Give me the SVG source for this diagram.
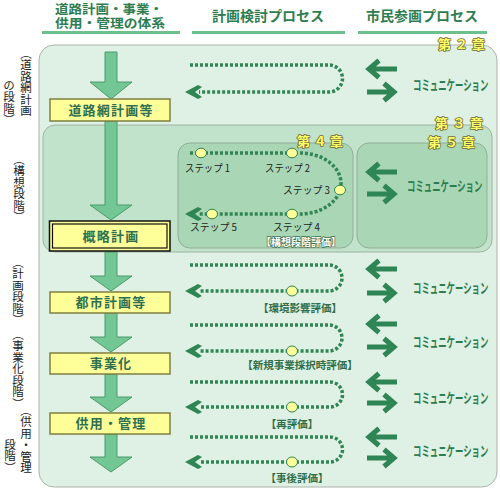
<svg xmlns="http://www.w3.org/2000/svg" width="500" height="490" viewBox="0 0 500 490">
<defs>
<style>
.hdr{font-family:"Noto Sans CJK JP","Noto Sans",sans-serif;font-weight:bold;fill:#2e7d50;text-anchor:middle}
.hdr2{font-family:"Liberation Sans","Noto Sans CJK JP",sans-serif;font-weight:bold;fill:#2e7d50;text-anchor:middle}
.bar{fill:#6cc08e}
.vt{font-family:"Noto Sans CJK JP","Noto Sans",sans-serif;font-size:11.5px;fill:#222;writing-mode:vertical-rl;text-orientation:mixed}
.chap{font-family:"Noto Sans CJK JP","Noto Sans",sans-serif;font-weight:bold;font-size:13px;fill:#ffff66;stroke:#6e6a3c;stroke-width:1.6;paint-order:stroke;stroke-linejoin:round}
.big{fill:#72c794;stroke:#4a9a6a;stroke-width:1}
.box{fill:#ffff99;stroke:#7f7f40;stroke-width:1.5}
.blab{font-family:"Noto Sans CJK JP","Noto Sans",sans-serif;font-weight:bold;font-size:13px;fill:#2e7050;text-anchor:middle;letter-spacing:1.2px}
.dot{fill:none;stroke:#2f8553;stroke-width:3.5;stroke-dasharray:3 2}
.ah{fill:#2f8553}
.yc{fill:#ffff99;stroke:#2f8553;stroke-width:1}
.step{font-family:"Noto Sans CJK JP","Noto Sans",sans-serif;font-size:10px;fill:#222}
.ev{font-family:"Noto Sans CJK JP","Noto Sans",sans-serif;font-weight:bold;font-size:10.5px;fill:#2e6e4a;text-anchor:middle}
.evw{font-family:"Noto Sans CJK JP","Noto Sans",sans-serif;font-weight:bold;font-size:10px;fill:#ffffff;stroke:#3a6e50;stroke-width:1.3;paint-order:stroke;text-anchor:middle}
.ca{fill:none;stroke:#2e8555;stroke-width:5;stroke-linejoin:miter}
.com{font-family:"Noto Sans CJK JP","Noto Sans",sans-serif;font-weight:bold;font-size:14px;fill:#2e7d50}
</style>
</defs>

<g id="headers">
<text class="hdr2" font-size="12.5"><tspan x="109" y="14" textLength="108" lengthAdjust="spacingAndGlyphs">道路計画・事業・</tspan><tspan x="110" y="28" textLength="110" lengthAdjust="spacingAndGlyphs">供用・管理の体系</tspan></text>
<rect class="bar" x="42" y="31" width="138" height="3"/>
<text class="hdr" x="268" y="21" font-size="14">計画検討プロセス</text>
<rect class="bar" x="192" y="31" width="153" height="3"/>
<text class="hdr" x="422" y="21" font-size="14">市民参画プロセス</text>
<rect class="bar" x="358" y="31" width="129" height="3"/>
</g>

<g id="panels">
<rect x="39" y="45" width="458" height="442" rx="15" fill="#dff1e4" stroke="#aab4ab" stroke-width="1"/>
<rect x="43" y="125" width="449" height="127" rx="12" fill="#c2e3cb" stroke="#9fb2a3" stroke-width="1"/>
<rect x="178" y="143" width="175" height="105" rx="12" fill="#a9d7b5" stroke="#93ab98" stroke-width="1"/>
<rect x="357" y="143" width="130" height="105" rx="12" fill="#a9d7b5" stroke="#93ab98" stroke-width="1"/>
<text class="chap" x="438" y="49" textLength="47" lengthAdjust="spacing">第２章</text>
<text class="chap" x="435" y="128" textLength="48" lengthAdjust="spacing">第３章</text>
<text class="chap" x="428" y="147" textLength="47" lengthAdjust="spacing">第５章</text>
<text class="chap" x="297" y="146" textLength="46" lengthAdjust="spacing">第４章</text>
</g>

<g id="side-labels">
<text class="vt" writing-mode="vertical-rl" x="26" y="47.5">（道路網計画</text>
<text class="vt" writing-mode="vertical-rl" x="9" y="79.5">の段階）</text>
<text class="vt" writing-mode="vertical-rl" x="19" y="153.5">（構想段階）</text>
<text class="vt" writing-mode="vertical-rl" x="18" y="256.5">（計画段階）</text>
<text class="vt" writing-mode="vertical-rl" x="18" y="328.5">（事業化段階）</text>
<text class="vt" writing-mode="vertical-rl" x="26" y="404.5">（供用・管理</text>
<text class="vt" writing-mode="vertical-rl" x="10" y="438.5">段階）</text>
</g>

<g id="connectors">
<polygon class="big" points="105,52 117,52 117,82 132,82 111,99 90,82 105,82"/>
<polygon class="big" points="105,121 117,121 117,205 132,205 111,220 90,205 105,205"/>
<polygon class="big" points="105,252 117,252 117,276 132,276 111,291 90,276 105,276"/>
<polygon class="big" points="105,313 117,313 117,337 132,337 111,352 90,337 105,337"/>
<polygon class="big" points="105,374 117,374 117,397 132,397 111,412 90,397 105,397"/>
<polygon class="big" points="105,434 117,434 117,457 132,457 111,472 90,457 105,457"/>

<path class="dot" d="M190,65 H329 A13.5,13.5 0 0 1 329,92 H199"/>
<polygon class="ah" points="185,92 198,85 202,87 195,92 202,97 198,99"/>
<path class="dot" d="M190,265 H329 A13,13 0 0 1 329,291 H199"/>
<polygon class="ah" points="185,291 198,284 202,286 195,291 202,296 198,298"/>
<path class="dot" d="M190,325 H329 A13,13 0 0 1 329,351 H199"/>
<polygon class="ah" points="185,351 198,344 202,346 195,351 202,356 198,358"/>
<path class="dot" d="M190,382 H330 A12.5,12.5 0 0 1 330,407 H199"/>
<polygon class="ah" points="185,407 198,400 202,402 195,407 202,412 198,414"/>
<path class="dot" d="M190,437 H330 A12.5,12.5 0 0 1 330,462 H199"/>
<polygon class="ah" points="185,462 198,455 202,457 195,462 202,467 198,469"/>

<path class="dot" d="M190,153 H300 A41,30.5 0 0 1 300,214 H199"/>
<polygon class="ah" points="185,214 198,207 202,209 195,214 202,219 198,221"/>

<path class="ca" d="M369,69 H397 M379,60.5 L369,69 L379,77.5 M367,92 H394 M384,83.5 L394,92 L384,100.5"/>
<path class="ca" d="M369,172 H397 M379,163.5 L369,172 L379,180.5 M367,194 H394 M384,185.5 L394,194 L384,202.5"/>
<path class="ca" d="M369,269 H397 M379,260.5 L369,269 L379,277.5 M367,293 H394 M384,284.5 L394,293 L384,301.5"/>
<path class="ca" d="M369,324 H397 M379,315.5 L369,324 L379,332.5 M367,347 H394 M384,338.5 L394,347 L384,355.5"/>
<path class="ca" d="M369,382 H397 M379,373.5 L369,382 L379,390.5 M367,403 H394 M384,394.5 L394,403 L384,411.5"/>
<path class="ca" d="M369,437 H397 M379,428.5 L369,437 L379,445.5 M367,458 H394 M384,449.5 L394,458 L384,466.5"/>
</g>

<g id="node-road-network">
<rect class="box" x="50" y="99" width="120" height="22"/>
<text class="blab" x="111" y="115">道路網計画等</text>
</g>
<g id="node-outline-plan">
<rect x="49.5" y="221" width="120.5" height="30" fill="#ffff99" stroke="#111" stroke-width="1.5"/>
<rect x="52.5" y="224" width="114.5" height="24" fill="none" stroke="#111" stroke-width="1.2"/>
<text class="blab" x="111" y="241">概略計画</text>
</g>
<g id="node-city-plan">
<rect class="box" x="50" y="292" width="120" height="21"/>
<text class="blab" x="111" y="307">都市計画等</text>
</g>
<g id="node-project">
<rect class="box" x="50" y="353" width="120" height="21"/>
<text class="blab" x="111" y="368">事業化</text>
</g>
<g id="node-operation">
<rect class="box" x="50" y="413" width="120" height="21"/>
<text class="blab" x="111" y="428">供用・管理</text>
</g>

<g id="steps">
<ellipse class="yc" cx="201" cy="153" rx="5.5" ry="4.8"/>
<ellipse class="yc" cx="292" cy="153" rx="5.5" ry="4.8"/>
<ellipse class="yc" cx="340" cy="190" rx="5.5" ry="4.8"/>
<ellipse class="yc" cx="292" cy="214" rx="5.5" ry="4.8"/>
<ellipse class="yc" cx="212" cy="214" rx="5.5" ry="4.8"/>
<text class="step" x="185" y="172" textLength="45" lengthAdjust="spacingAndGlyphs">ステップ 1</text>
<text class="step" x="265" y="172" textLength="45" lengthAdjust="spacingAndGlyphs">ステップ 2</text>
<text class="step" x="283" y="194" textLength="47" lengthAdjust="spacingAndGlyphs">ステップ 3</text>
<text class="step" x="273" y="231" textLength="47" lengthAdjust="spacingAndGlyphs">ステップ 4</text>
<text class="step" x="190" y="231" textLength="47" lengthAdjust="spacingAndGlyphs">ステップ 5</text>
<text class="evw" x="301" y="246">【構想段階評価】</text>
</g>

<g id="evaluations">
<ellipse class="yc" cx="292" cy="291" rx="5.5" ry="5"/>
<ellipse class="yc" cx="292" cy="351" rx="5.5" ry="5"/>
<ellipse class="yc" cx="292" cy="407" rx="5.5" ry="5"/>
<ellipse class="yc" cx="292" cy="462" rx="5.5" ry="5"/>
<text class="ev" x="300" y="312">【環境影響評価】</text>
<text class="ev" x="300" y="369">【新規事業採択時評価】</text>
<text class="ev" x="292" y="428">【再評価】</text>
<text class="ev" x="297" y="482">【事後評価】</text>
</g>

<g id="communication">
<text class="com" transform="translate(413 90) scale(0.6 1)">コミュニケーション</text>
<text class="com" transform="translate(407 191) scale(0.6 1)">コミュニケーション</text>
<text class="com" transform="translate(413 293) scale(0.6 1)">コミュニケーション</text>
<text class="com" transform="translate(413 347) scale(0.6 1)">コミュニケーション</text>
<text class="com" transform="translate(413 403) scale(0.6 1)">コミュニケーション</text>
<text class="com" transform="translate(413 456) scale(0.6 1)">コミュニケーション</text>
</g>
</svg>
